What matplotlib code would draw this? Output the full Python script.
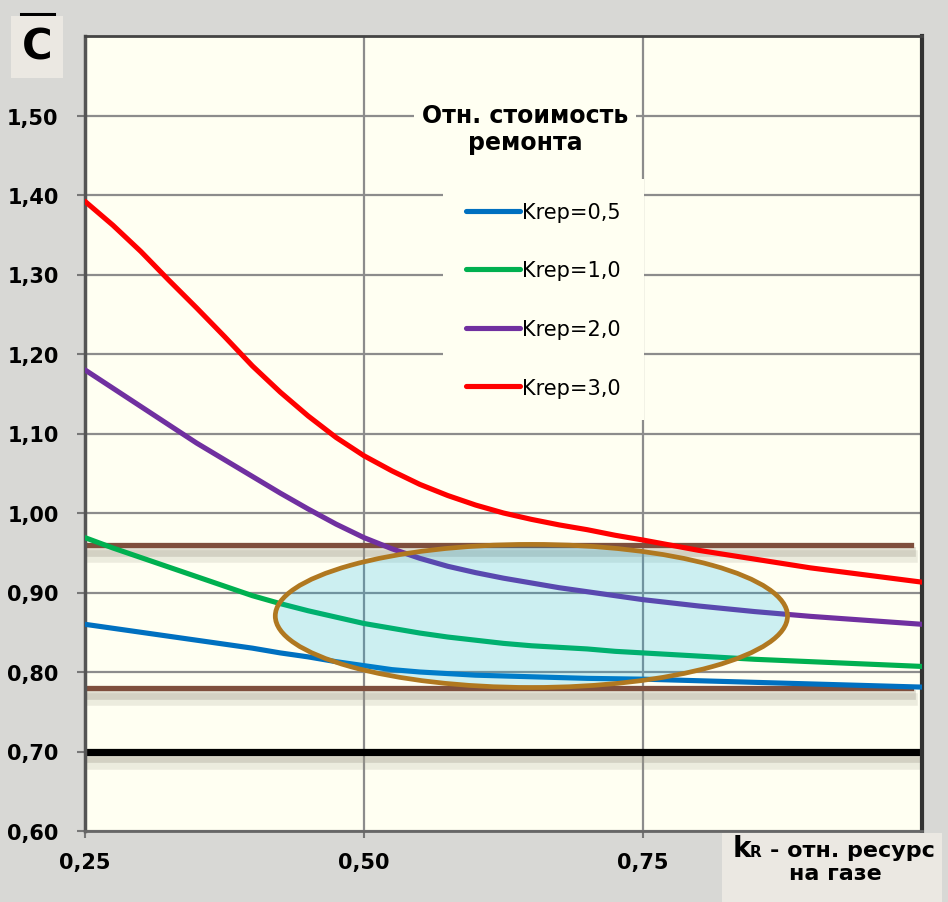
import matplotlib
matplotlib.use('Agg')
import matplotlib.pyplot as plt
import matplotlib.patheffects as pe
from matplotlib.patches import Ellipse, Rectangle
from matplotlib.lines import Line2D

plt.rcParams['font.family'] = ['DejaVu Sans']

# data
kr = [0.25, 0.275, 0.30, 0.325, 0.35, 0.375, 0.40, 0.425, 0.45, 0.475, 0.50, 0.525, 0.55, 0.575,
      0.60, 0.625, 0.65, 0.675, 0.70, 0.725, 0.75, 0.80, 0.85, 0.90, 0.95, 1.00]
c_05 = [0.860, 0.855, 0.850, 0.845, 0.840, 0.835, 0.830, 0.824, 0.819, 0.813, 0.808, 0.803, 0.800, 0.798,
        0.796, 0.795, 0.794, 0.793, 0.792, 0.7915, 0.791, 0.789, 0.787, 0.785, 0.783, 0.781]
c_10 = [0.969, 0.956, 0.944, 0.932, 0.920, 0.908, 0.896, 0.886, 0.877, 0.869, 0.861, 0.855, 0.849, 0.844,
        0.840, 0.836, 0.833, 0.831, 0.829, 0.826, 0.824, 0.820, 0.816, 0.813, 0.810, 0.807]
c_20 = [1.180, 1.157, 1.134, 1.111, 1.088, 1.067, 1.046, 1.025, 1.005, 0.986, 0.969, 0.955, 0.943, 0.933,
        0.925, 0.918, 0.912, 0.906, 0.901, 0.896, 0.891, 0.883, 0.876, 0.870, 0.865, 0.860]
c_30 = [1.392, 1.362, 1.329, 1.293, 1.258, 1.222, 1.185, 1.152, 1.122, 1.095, 1.072, 1.053, 1.036, 1.022,
        1.010, 1.000, 0.992, 0.985, 0.979, 0.972, 0.966, 0.953, 0.942, 0.931, 0.922, 0.913]
labels = ['Krep=0,5', 'Krep=1,0', 'Krep=2,0', 'Krep=3,0']
colors = ['#0070c0', '#00b050', '#7030a0', '#ff0000']

band_levels = [0.96, 0.78]
band_x = [0.25, 0.99]
floor_level = 0.70

zone_center = (0.65, 0.8705)
zone_width = 0.459
zone_height = 0.180

xticks = [0.25, 0.50, 0.75, 1.00]
xticklabels = ['0,25', '0,50', '0,75', '']
yticks = [0.60, 0.70, 0.80, 0.90, 1.00, 1.10, 1.20, 1.30, 1.40, 1.50]
yticklabels = ['0,60', '0,70', '0,80', '0,90', '1,00', '1,10', '1,20', '1,30', '1,40', '1,50']

ivory = '#fffff2'
fig = plt.figure(figsize=(9.48, 9.03), dpi=100, facecolor='#d8d8d5')
ax = fig.add_axes([85/948, 1 - 832/903, 837/948, 795/903])
ax.set_facecolor(ivory)
ax.set_xlim(0.25, 1.0)
ax.set_ylim(0.60, 1.60)

ax.set_xticks(xticks)
ax.set_xticklabels(xticklabels, fontsize=15, fontweight='bold')
ax.set_yticks(yticks)
ax.set_yticklabels(yticklabels, fontsize=15, fontweight='bold')
ax.tick_params(axis='y', length=6, width=1.5, color='#777777', pad=13)
ax.tick_params(axis='x', length=5, width=1.5, color='#777777', pad=10)
ax.grid(True, color='#8c8c8c', linewidth=1.6, zorder=0)
ax.set_axisbelow(True)
for side, col, w in [('left', '#555555', 2.5), ('top', '#444444', 2.0),
                     ('right', '#333333', 3.0), ('bottom', '#666666', 2.0)]:
    ax.spines[side].set_color(col)
    ax.spines[side].set_linewidth(w)

shadow = [pe.SimpleLineShadow(offset=(0, -5), shadow_color='#9a9686', alpha=0.3, linewidth=7),
          pe.SimpleLineShadow(offset=(0, -8), shadow_color='#9a9686', alpha=0.18, linewidth=9),
          pe.Normal()]
for lev in band_levels:
    ax.plot(band_x, [lev, lev], color='#7f4f3d', linewidth=3.8, zorder=2, path_effects=shadow)
ax.axhline(floor_level, color='black', linewidth=5.2, zorder=2, path_effects=shadow)

for ys, col, lab in zip([c_05, c_10, c_20, c_30], colors, labels):
    ax.plot(kr, ys, color=col, linewidth=3.7, label=lab, solid_capstyle='round',
            solid_joinstyle='round', zorder=3)

zone = Ellipse(zone_center, zone_width, zone_height, facecolor='#00b0f0', alpha=0.2,
               edgecolor='none', zorder=4)
ax.add_patch(zone)
ring = Ellipse(zone_center, zone_width, zone_height, facecolor='none',
               edgecolor='#b07820', linewidth=3.4, zorder=5)
ax.add_patch(ring)

leg = ax.legend(loc='upper left', bbox_to_anchor=((443 - 85) / 837, (832 - 180) / 795),
                borderaxespad=0, borderpad=1.1, fontsize=15, labelspacing=1.85,
                handlelength=2.6, handletextpad=0.1, frameon=True, facecolor=ivory,
                edgecolor='none', framealpha=1, fancybox=False)
leg.set_zorder(6)

ax.text((525 - 85) / 837, (832 - 104) / 795, 'Отн. стоимость\nремонта', transform=ax.transAxes,
        ha='center', va='top', fontsize=17, fontweight='bold', linespacing=1.15, zorder=7,
        bbox=dict(facecolor=ivory, edgecolor='none', pad=6))

# C label, top left
fig.text(37/948, 1 - 48/903, 'C', ha='center', va='center', fontsize=30, fontweight='bold',
         bbox=dict(facecolor='#ebe8e2', edgecolor='none', boxstyle='square,pad=0.25'))
fig.add_artist(Line2D([21/948, 54/948], [1 - 15/903, 1 - 15/903], color='black', linewidth=2.2))

# x-axis label box, bottom right
fig.add_artist(Rectangle((722/948, 0), (942 - 722)/948, (903 - 834)/903, transform=fig.transFigure,
                         facecolor='#ebe8e2', edgecolor='none'))
fig.text(733/948, 1 - 857/903, 'k', ha='left', va='baseline', fontsize=20, fontweight='bold')
fig.text(750/948, 1 - 857/903, 'R', ha='left', va='baseline', fontsize=11, fontweight='bold')
fig.text(935/948, 1 - 857/903, '- отн. ресурс', ha='right', va='baseline', fontsize=16, fontweight='bold')
fig.text(835/948, 1 - 880/903, 'на газе', ha='center', va='baseline', fontsize=16, fontweight='bold')

fig.savefig('out.png', dpi=100, facecolor=fig.get_facecolor())
